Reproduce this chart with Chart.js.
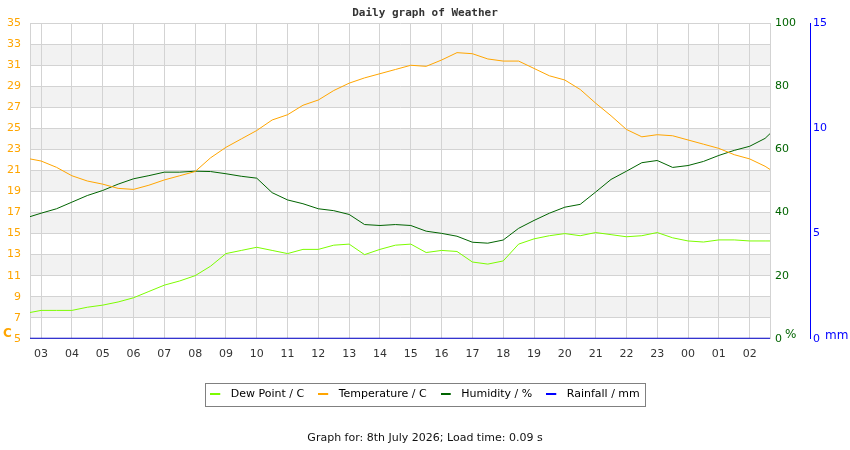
<!DOCTYPE html>
<html>
<head>
<meta charset="utf-8">
<script src="https://cdn.jsdelivr.net/npm/chart.js@4/dist/chart.umd.min.js"></script>
<style>
  html, body { margin: 0; padding: 0; background: #fff; }
  #wrap { width: 850px; height: 450px; }
</style>
</head>
<body>
<div id="wrap"><canvas id="grafico" width="850" height="450"></canvas></div>
<script>
// hora del dia (03 = 3, 00 del dia siguiente = 24 ...)
const horas = [2.64, 3, 3.5, 4, 4.5, 5, 5.5, 6, 6.5, 7, 7.5, 8, 8.5, 9, 9.5, 10, 10.5, 11, 11.5, 12,
  12.5, 13, 13.5, 14, 14.5, 15, 15.5, 16, 16.5, 17, 17.5, 18, 18.5, 19, 19.5, 20, 20.5, 21, 21.5, 22,
  22.5, 23, 23.5, 24, 24.5, 25, 25.5, 26, 26.5, 26.66];

const temperatura = [22.1, 21.9, 21.3, 20.5, 20.0, 19.7, 19.3, 19.2, 19.6, 20.1, 20.5, 20.9, 22.2, 23.2, 24.0, 24.8, 25.8, 26.3, 27.2, 27.7,
  28.6, 29.3, 29.8, 30.2, 30.6, 31.0, 30.9, 31.5, 32.2, 32.1, 31.6, 31.4, 31.4, 30.7, 30.0, 29.6, 28.7, 27.4, 26.2, 24.9,
  24.2, 24.4, 24.3, 23.9, 23.5, 23.1, 22.5, 22.1, 21.4, 21.1];

const puntoRocio = [7.5, 7.7, 7.7, 7.7, 8.0, 8.2, 8.5, 8.9, 9.5, 10.1, 10.5, 11.0, 11.9, 13.1, 13.4, 13.7, 13.4, 13.1, 13.5, 13.5,
  13.9, 14.0, 13.0, 13.5, 13.9, 14.0, 13.2, 13.4, 13.3, 12.3, 12.1, 12.4, 14.0, 14.5, 14.8, 15.0, 14.8, 15.1, 14.9, 14.7,
  14.8, 15.1, 14.6, 14.3, 14.2, 14.4, 14.4, 14.3, 14.3, 14.3];

const humedad = [38.7, 39.8, 41.2, 43.3, 45.4, 47.0, 49.0, 50.7, 51.7, 52.8, 52.8, 53.1, 53.0, 52.3, 51.5, 50.9, 46.3, 44.0, 42.8, 41.2,
  40.6, 39.4, 36.2, 35.9, 36.2, 35.9, 34.1, 33.4, 32.5, 30.6, 30.3, 31.3, 35.0, 37.5, 39.8, 41.7, 42.6, 46.5, 50.5, 53.1,
  55.8, 56.5, 54.3, 54.9, 56.2, 58.1, 59.7, 61.0, 63.5, 65.0];

// sin lluvia en todo el dia
const horasLluvia = [2.64, 26.66];
const lluvia = [0, 0];

// franjas grises del fondo (desde, hasta) en grados
const franjas = [7, 11, 15, 19, 23, 27, 31];

const fuente = 'DejaVu Sans';
const gris = 'rgb(211,211,211)';

// marcador de la leyenda: linea corta con hueco a la derecha
function marcador(color) {
    const c = document.createElement('canvas');
    c.width = 15;
    c.height = 2;
    const g = c.getContext('2d');
    g.fillStyle = color;
    g.fillRect(0, 0, 10, 2);
    return c;
}

function serie(xs, ys) {
    return xs.map((x, i) => ({ x: x, y: ys[i] }));
}

const fondo = {
    id: 'fondo',
    beforeDraw(chart) {
        const { ctx, chartArea, scales } = chart;
        ctx.save();
        ctx.fillStyle = '#f2f2f2';
        franjas.forEach(v => {
            const y1 = scales.y.getPixelForValue(v + 2);
            const y2 = scales.y.getPixelForValue(v);
            ctx.fillRect(chartArea.left, y1, chartArea.right - chartArea.left, y2 - y1);
        });
        ctx.restore();
    },
    afterDraw(chart) {
        const { ctx, chartArea, scales, legend } = chart;
        ctx.save();
        ctx.textBaseline = 'middle';
        // unidades de cada eje
        ctx.fillStyle = '#ffa500';
        ctx.font = 'bold 12px "' + fuente + '"';
        ctx.fillText('C', 3, chartArea.bottom - 5);
        ctx.font = '12px "' + fuente + '"';
        ctx.fillStyle = '#006400';
        ctx.fillText('%', scales.y1.left + 15, chartArea.bottom - 4);
        ctx.fillStyle = '#0000ff';
        ctx.fillText('mm', scales.y2.left + 15, chartArea.bottom - 3);
        // recuadro de la leyenda
        const cajas = legend.legendHitBoxes;
        if (cajas.length) {
            const izq = Math.min(...cajas.map(b => b.left)) - 5;
            const der = Math.max(...cajas.map(b => b.left + b.width)) + 5;
            const arriba = cajas[0].top - 6;
            const abajo = cajas[0].top + cajas[0].height + 6;
            ctx.strokeStyle = '#808080';
            ctx.lineWidth = 1;
            ctx.strokeRect(Math.round(izq) + 0.5, Math.round(arriba) + 0.5, Math.round(der - izq), Math.round(abajo - arriba));
        }
        ctx.restore();
    }
};

const data = {
    datasets: [{
        label: 'Dew Point / C',
        data: serie(horas, puntoRocio),
        borderColor: '#7cfc00',
        backgroundColor: '#7cfc00',
        pointStyle: marcador('#7cfc00'),
        yAxisID: 'y'
    }, {
        label: 'Temperature / C',
        data: serie(horas, temperatura),
        borderColor: '#ffa500',
        backgroundColor: '#ffa500',
        pointStyle: marcador('#ffa500'),
        yAxisID: 'y'
    }, {
        label: 'Humidity / %',
        data: serie(horas, humedad),
        borderColor: '#006400',
        backgroundColor: '#006400',
        pointStyle: marcador('#006400'),
        yAxisID: 'y1'
    }, {
        label: 'Rainfall / mm',
        data: serie(horasLluvia, lluvia),
        borderColor: '#0000cc',
        backgroundColor: '#0000ff',
        pointStyle: marcador('#0000ff'),
        borderWidth: 2,
        yAxisID: 'y2'
    }]
};

const config = {
    type: 'line',
    data: data,
    options: {
        responsive: false,
        animation: false,
        elements: {
            line: { borderWidth: 1, tension: 0 },
            point: { radius: 0 }
        },
        layout: { padding: { left: 0, right: 0, top: 0, bottom: 0 } },
        scales: {
            x: {
                type: 'linear',
                min: 2.64,
                max: 26.66,
                grid: { color: gris, drawTicks: false },
                border: { display: false },
                ticks: {
                    stepSize: 1,
                    includeBounds: false,
                    autoSkip: false,
                    maxRotation: 0,
                    padding: 9,
                    color: '#333',
                    font: { family: fuente, size: 11 },
                    callback: v => String(v % 24).padStart(2, '0')
                },
                afterFit: s => { s.height = 36; }
            },
            y: {
                position: 'left',
                min: 5,
                max: 35,
                grid: { color: gris, drawTicks: false },
                border: { color: gris },
                ticks: {
                    stepSize: 2,
                    padding: 9,
                    color: '#ffa500',
                    font: { family: fuente, size: 11 }
                },
                afterFit: s => { s.width = 30; }
            },
            y1: {
                position: 'right',
                min: 0,
                max: 100,
                grid: { display: false, drawTicks: false, tickLength: 0 },
                border: { color: gris },
                ticks: {
                    stepSize: 20,
                    padding: 5,
                    color: '#006400',
                    font: { family: fuente, size: 11 }
                },
                afterFit: s => { s.width = 40; }
            },
            y2: {
                position: 'right',
                min: 0,
                max: 15,
                grid: { display: false, drawTicks: false, tickLength: 0 },
                border: { color: '#0000ff', width: 1 },
                ticks: {
                    stepSize: 5,
                    padding: 3,
                    color: '#0000ff',
                    font: { family: fuente, size: 11 }
                },
                afterFit: s => { s.width = 40; }
            }
        },
        plugins: {
            title: {
                display: true,
                text: 'Daily graph of Weather',
                color: '#333',
                font: { family: 'DejaVu Sans Mono', size: 11, weight: 'bold' },
                padding: { top: 7, bottom: 3 }
            },
            subtitle: {
                display: true,
                position: 'bottom',
                text: 'Graph for: 8th July 2026; Load time: 0.09 s',
                color: '#111',
                font: { family: fuente, size: 11, weight: 'normal' },
                padding: { top: 22, bottom: 5 }
            },
            legend: {
                position: 'bottom',
                labels: {
                    usePointStyle: true,
                    pointStyleWidth: 15,
                    padding: 14,
                    color: '#000',
                    font: { family: fuente, size: 11 }
                }
            },
            tooltip: { enabled: false }
        }
    },
    plugins: [fondo]
};

const ctx = document.getElementById('grafico').getContext('2d');
new Chart(ctx, config);
</script>
</body>
</html>
